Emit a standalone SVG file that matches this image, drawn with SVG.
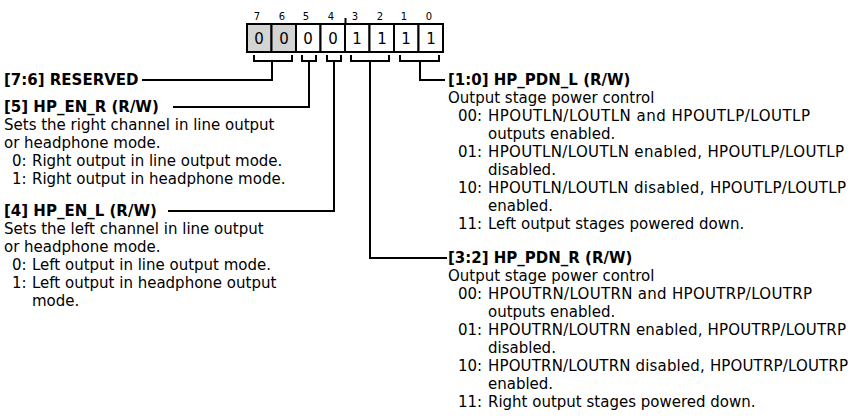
<svg xmlns="http://www.w3.org/2000/svg" width="854" height="418" viewBox="0 0 854 418">
<style>
.t{font-family:"DejaVu Sans",Verdana,sans-serif;font-size:15px;fill:#000}
.b{font-family:"DejaVu Sans",Verdana,sans-serif;font-size:15px;font-weight:bold;fill:#000}
.n{font-family:"DejaVu Sans",sans-serif;font-size:10px;fill:#000;text-anchor:middle}
.v{font-family:"DejaVu Sans",sans-serif;font-size:15px;fill:#000;text-anchor:middle}
.ln{fill:none;stroke:#000;stroke-width:2}
.cell{stroke:#000;stroke-width:2;fill:#fff}
.gray{fill:#d4d4d4}
</style>
<g id="register">
<rect class="cell gray" x="247" y="24" width="24.5" height="28"/>
<rect class="cell gray" x="271.5" y="24" width="24.5" height="28"/>
<rect class="cell" x="296" y="24" width="24.5" height="28"/>
<rect class="cell" x="320.5" y="24" width="24.5" height="28"/>
<rect class="cell" x="345" y="24" width="24.5" height="28"/>
<rect class="cell" x="369.5" y="24" width="24.5" height="28"/>
<rect class="cell" x="394" y="24" width="24.5" height="28"/>
<rect class="cell" x="418.5" y="24" width="24.5" height="28"/>
<line class="ln" x1="345.5" y1="18" x2="345.5" y2="24"/>
<text class="n" x="257" y="20">7</text>
<text class="n" x="282" y="20">6</text>
<text class="n" x="306" y="20">5</text>
<text class="n" x="331" y="20">4</text>
<text class="n" x="355" y="20">3</text>
<text class="n" x="380" y="20">2</text>
<text class="n" x="404" y="20">1</text>
<text class="n" x="429" y="20">0</text>
<text class="v" x="259" y="44">0</text>
<text class="v" x="284" y="44">0</text>
<text class="v" x="308" y="44">0</text>
<text class="v" x="333" y="44">0</text>
<text class="v" x="357" y="44">1</text>
<text class="v" x="382" y="44">1</text>
<text class="v" x="406" y="44">1</text>
<text class="v" x="431" y="44">1</text>
</g>
<g id="connectors">
<path class="ln" d="M254 55 V61 H292 V55 M272 61 V80 H142"/>
<path class="ln" d="M302 55 V61 H316 V55 M309 61 V107 H173"/>
<path class="ln" d="M327 55 V61 H341 V55 M334 61 V211 H168"/>
<path class="ln" d="M351 55 V61 H389 V55 M370 61 V258 H447"/>
<path class="ln" d="M400 55 V61 H439 V55 M420 61 V80 H445"/>
</g>
<g id="f76">
<text class="b" x="4" y="85">[7:6] RESERVED</text>
</g>
<g id="f5">
<text class="b" x="4" y="112">[5] HP_EN_R (R/W)</text>
<text class="t" x="4" y="130">Sets the right channel in line output</text>
<text class="t" x="4" y="148">or headphone mode.</text>
<text class="t" x="12" y="166">0:</text><text class="t" x="32" y="166">Right output in line output mode.</text>
<text class="t" x="12" y="184">1:</text><text class="t" x="32" y="184">Right output in headphone mode.</text>
</g>
<g id="f4">
<text class="b" x="4" y="216">[4] HP_EN_L (R/W)</text>
<text class="t" x="4" y="234">Sets the left channel in line output</text>
<text class="t" x="4" y="252">or headphone mode.</text>
<text class="t" x="12" y="270">0:</text><text class="t" x="32" y="270">Left output in line output mode.</text>
<text class="t" x="12" y="288">1:</text><text class="t" x="32" y="288">Left output in headphone output</text>
<text class="t" x="32" y="306">mode.</text>
</g>
<g id="f10">
<text class="b" x="448" y="85">[1:0] HP_PDN_L (R/W)</text>
<text class="t" x="448" y="103">Output stage power control</text>
<text class="t" x="458" y="121">00:</text><text class="t" x="488" y="121" textLength="322" lengthAdjust="spacing">HPOUTLN/LOUTLN and HPOUTLP/LOUTLP</text>
<text class="t" x="488" y="139">outputs enabled.</text>
<text class="t" x="458" y="157">01:</text><text class="t" x="488" y="157" textLength="356" lengthAdjust="spacing">HPOUTLN/LOUTLN enabled, HPOUTLP/LOUTLP</text>
<text class="t" x="488" y="175">disabled.</text>
<text class="t" x="458" y="193">10:</text><text class="t" x="488" y="193" textLength="358" lengthAdjust="spacing">HPOUTLN/LOUTLN disabled, HPOUTLP/LOUTLP</text>
<text class="t" x="488" y="211">enabled.</text>
<text class="t" x="458" y="229">11:</text><text class="t" x="488" y="229">Left output stages powered down.</text>
</g>
<g id="f32">
<text class="b" x="448" y="263">[3:2] HP_PDN_R (R/W)</text>
<text class="t" x="448" y="281">Output stage power control</text>
<text class="t" x="458" y="299">00:</text><text class="t" x="488" y="299" textLength="324" lengthAdjust="spacing">HPOUTRN/LOUTRN and HPOUTRP/LOUTRP</text>
<text class="t" x="488" y="317">outputs enabled.</text>
<text class="t" x="458" y="335">01:</text><text class="t" x="488" y="335" textLength="358" lengthAdjust="spacing">HPOUTRN/LOUTRN enabled, HPOUTRP/LOUTRP</text>
<text class="t" x="488" y="353">disabled.</text>
<text class="t" x="458" y="371">10:</text><text class="t" x="488" y="371" textLength="360" lengthAdjust="spacing">HPOUTRN/LOUTRN disabled, HPOUTRP/LOUTRP</text>
<text class="t" x="488" y="389">enabled.</text>
<text class="t" x="458" y="407">11:</text><text class="t" x="488" y="407">Right output stages powered down.</text>
</g>
</svg>
